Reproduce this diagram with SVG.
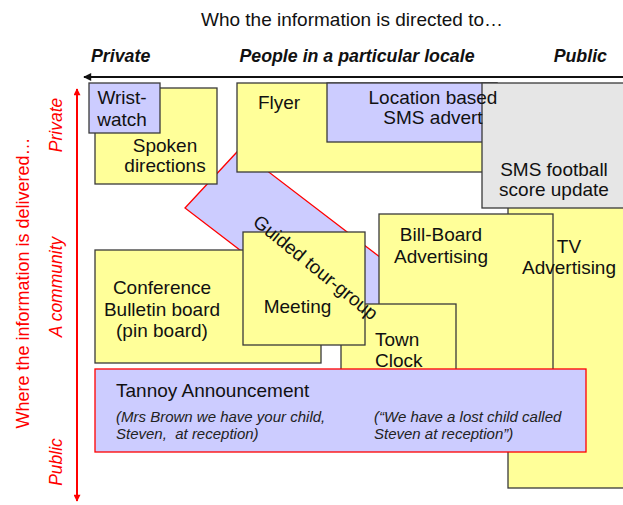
<svg xmlns="http://www.w3.org/2000/svg" width="623" height="505" viewBox="0 0 623 505">
  <defs>
    <marker id="head-black" viewBox="0 0 10 10" refX="9" refY="5" markerUnits="userSpaceOnUse" markerWidth="9" markerHeight="8" orient="auto">
      <path d="M0,0 L10,5 L0,10 z" fill="#111"/>
    </marker>
    <marker id="head-red" viewBox="0 0 10 10" refX="9" refY="5" markerUnits="userSpaceOnUse" markerWidth="9" markerHeight="7" orient="auto-start-reverse">
      <path d="M0,0 L10,5 L0,10 z" fill="#ff0000"/>
    </marker>
  </defs>
  <style>
    .yellow { fill: #ffff99; stroke: #3a3a3a; stroke-width: 1.3; }
    .blue { fill: #ccccff; stroke: #3a3a3a; stroke-width: 1.3; }
    .grey { fill: #e6e6e6; stroke: #3a3a3a; stroke-width: 1.3; }
    .blue-red { fill: #ccccff; stroke: #ff0000; stroke-width: 1.3; }
    text { font-family: "Liberation Sans", Arial, sans-serif; fill: #111; }
    .lbl { font-size: 19px; }
    .mid { text-anchor: middle; }
    .note { font-size: 15px; font-style: italic; fill: #222; }
    .title { font-size: 19px; }
    .axis-top { font-size: 17.8px; font-style: italic; font-weight: bold; }
    .axis-side { font-size: 17.5px; font-style: italic; fill: #ff0000; text-anchor: middle; }
    .side-title { font-size: 18px; fill: #ff0000; text-anchor: middle; }
  </style>

  <rect width="623" height="505" fill="#ffffff"/>

  <!-- axis titles -->
  <text class="title mid" x="352" y="26">Who the information is directed to…</text>
  <text class="axis-top" x="91" y="62">Private</text>
  <text class="axis-top mid" x="357" y="62">People in a particular locale</text>
  <text class="axis-top" x="607" y="62" text-anchor="end">Public</text>
  <text class="side-title" transform="translate(29,283) rotate(-90)">Where the information is delivered…</text>
  <text class="axis-side" transform="translate(62,125) rotate(-90)">Private</text>
  <text class="axis-side" transform="translate(62,287) rotate(-90)">A community</text>
  <text class="axis-side" transform="translate(62,462) rotate(-90)">Public</text>

  <!-- axes -->
  <g id="connectors">
    <line x1="623" y1="77" x2="84" y2="77" stroke="#111" stroke-width="2" marker-end="url(#head-black)"/>
    <line x1="77" y1="89" x2="77" y2="501" stroke="#ff0000" stroke-width="2" marker-start="url(#head-red)" marker-end="url(#head-red)"/>
  </g>

  <!-- boxes, back to front -->
  <g id="node-guided-tour">
    <polygon class="blue-red" stroke-width="1" points="185,208 239.3,149.5 445.7,307.4 391.4,365.9"/>
  </g>
  <g id="node-tv">
    <rect class="yellow" x="508" y="150" width="140" height="338"/>
  </g>
  <g id="node-flyer">
    <rect class="yellow" x="237" y="83" width="260" height="89"/>
  </g>
  <g id="node-location-sms">
    <rect class="blue" x="327" y="83" width="170" height="59"/>
  </g>
  <g id="node-sms-football">
    <rect class="grey" x="482" y="83" width="160" height="125"/>
  </g>
  <g id="node-spoken">
    <rect class="yellow" x="95" y="88" width="122" height="96"/>
  </g>
  <g id="node-wristwatch">
    <rect class="blue" x="89" y="83" width="71" height="50"/>
  </g>
  <g id="node-conference">
    <rect class="yellow" x="95" y="250" width="226" height="113"/>
  </g>
  <g id="node-billboard">
    <rect class="yellow" x="379" y="214" width="174" height="170"/>
  </g>
  <g id="node-town-clock">
    <rect class="yellow" x="341" y="304" width="115" height="76"/>
  </g>
  <g id="node-meeting">
    <rect class="yellow" x="243" y="232" width="122" height="113"/>
  </g>
  <g id="node-tannoy">
    <rect class="blue-red" x="95" y="369" width="491" height="83"/>
  </g>

  <!-- labels sit above every box -->
  <g id="labels">
    <g id="label-guided-tour">
      <text class="lbl mid" transform="translate(316,267) rotate(39)" y="7" font-size="19.5">Guided tour-group</text>
    </g>
    <g id="label-tv">
      <text class="lbl mid" x="569" y="253">TV</text>
      <text class="lbl mid" x="569" y="274">Advertising</text>
    </g>
    <g id="label-flyer">
      <text class="lbl mid" x="279" y="109">Flyer</text>
    </g>
    <g id="label-location-sms">
      <text class="lbl mid" x="433" y="104">Location based</text>
      <text class="lbl mid" x="433" y="124">SMS advert</text>
    </g>
    <g id="label-sms-football">
      <text class="lbl mid" x="554" y="176">SMS football</text>
      <text class="lbl mid" x="554" y="196">score update</text>
    </g>
    <g id="label-spoken">
      <text class="lbl mid" x="165" y="152">Spoken</text>
      <text class="lbl mid" x="165" y="172">directions</text>
    </g>
    <g id="label-wristwatch">
      <text class="lbl mid" x="122" y="104">Wrist-</text>
      <text class="lbl mid" x="122" y="126">watch</text>
    </g>
    <g id="label-conference">
      <text class="lbl mid" x="162" y="294">Conference</text>
      <text class="lbl mid" x="162" y="316">Bulletin board</text>
      <text class="lbl mid" x="162" y="337">(pin board)</text>
    </g>
    <g id="label-billboard">
      <text class="lbl mid" x="441" y="241">Bill-Board</text>
      <text class="lbl mid" x="441" y="263">Advertising</text>
    </g>
    <g id="label-town-clock">
      <text class="lbl" x="375" y="346">Town</text>
      <text class="lbl" x="375" y="367">Clock</text>
    </g>
    <g id="label-meeting">
      <text class="lbl mid" x="297.5" y="313">Meeting</text>
    </g>
    <g id="label-tannoy">
      <text class="lbl" x="116" y="397">Tannoy Announcement</text>
      <text class="note" x="116" y="422">(Mrs Brown we have your child,</text>
      <text class="note" x="116" y="439" xml:space="preserve">Steven,  at reception)</text>
      <text class="note" x="374" y="422">(“We have a lost child called</text>
      <text class="note" x="374" y="439">Steven at reception”)</text>
    </g>
  </g>
</svg>
